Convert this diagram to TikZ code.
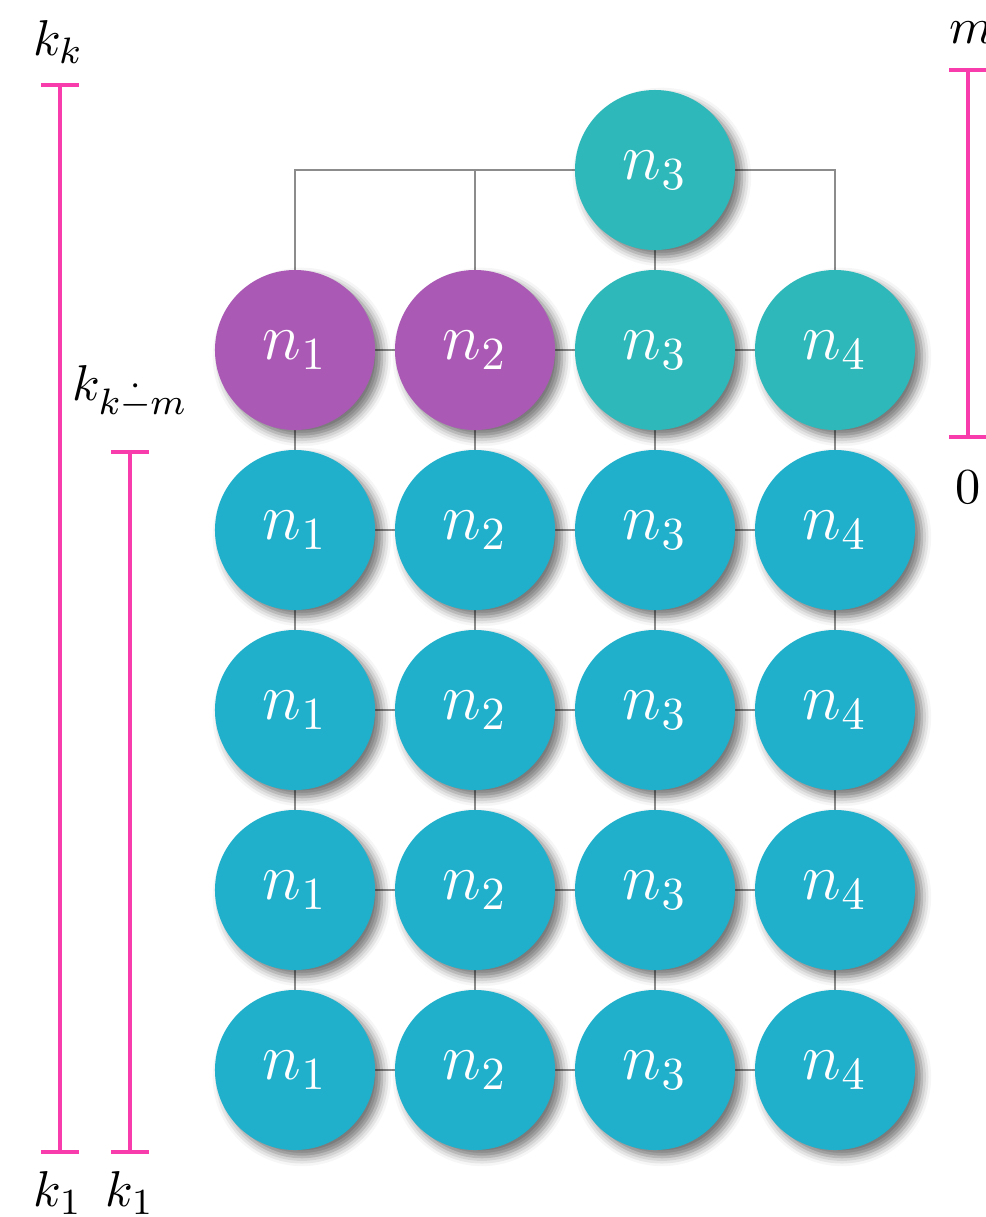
\documentclass[tikz,border=0pt]{standalone}
\usetikzlibrary{shadows.blur}
\definecolor{barpink}{RGB}{248,60,172}
\definecolor{purp}{RGB}{170,90,180}
\definecolor{tealc}{RGB}{46,184,186}
\definecolor{cyanc}{RGB}{33,176,204}
\definecolor{linkgray}{RGB}{140,140,140}
\tikzset{
  ball/.style={circle, minimum size=34.8pt, inner sep=0pt, text=white, font=\Large,
    blur shadow={shadow xshift=1.5pt, shadow yshift=-1.5pt, shadow blur radius=2pt, shadow opacity=55}},
  pball/.style={ball, fill=purp},
  tball/.style={ball, fill=tealc},
  cball/.style={ball, fill=cyanc},
  link/.style={draw=linkgray, line width=0.35pt},
  bar/.style={draw=barpink, line width=0.9pt},
  lbl/.style={inner sep=0pt, font=\fontsize{11.2pt}{13pt}\selectfont}
}
\begin{document}
\begin{tikzpicture}[x=0.2174pt,y=-0.2174pt]
\useasboundingbox (0,0) rectangle (986,1217);
% links first (behind nodes)
\coordinate (t) at (655,170);
\foreach \c/\x in {1/295,2/475,3/655,4/835}{
  \foreach \r/\y in {1/350,2/530,3/710,4/890,5/1070}{
    \coordinate (p\r\c) at (\x,\y);
  }
}
\foreach \r in {1,...,5}{
  \draw[link] (p\r1) -- (p\r2) -- (p\r3) -- (p\r4);
}
\foreach \c in {1,...,4}{
  \draw[link] (p1\c) -- (p5\c);
}
\draw[link] (t) -- (p13);
\draw[link] (t) -| (p11);
\draw[link] (t) -| (p12);
\draw[link] (t) -| (p14);
% nodes
\node[tball] (top) at (t) {$n_3$};
\node[pball] (a11) at (p11) {$n_1$};
\node[pball] (a12) at (p12) {$n_2$};
\node[tball] (a13) at (p13) {$n_3$};
\node[tball] (a14) at (p14) {$n_4$};
\foreach \r in {2,...,5}{
  \node[cball] (a\r1) at (p\r1) {$n_1$};
  \node[cball] (a\r2) at (p\r2) {$n_2$};
  \node[cball] (a\r3) at (p\r3) {$n_3$};
  \node[cball] (a\r4) at (p\r4) {$n_4$};
}
% bars
\coordinate (b1t) at (60,85);
\coordinate (b1b) at (60,1152);
\coordinate (b2t) at (130,452);
\coordinate (b2b) at (130,1152);
\coordinate (b3t) at (968,70);
\coordinate (b3b) at (968,437);
\draw[bar] (b1t) -- (b1b);
\draw[bar] ([xshift=-4.1pt]b1t) -- ([xshift=4.1pt]b1t);
\draw[bar] ([xshift=-4.1pt]b1b) -- ([xshift=4.1pt]b1b);
\draw[bar] (b2t) -- (b2b);
\draw[bar] ([xshift=-4.1pt]b2t) -- ([xshift=4.1pt]b2t);
\draw[bar] ([xshift=-4.1pt]b2b) -- ([xshift=4.1pt]b2b);
\draw[bar] (b3t) -- (b3b);
\draw[bar] ([xshift=-4.1pt]b3t) -- ([xshift=4.1pt]b3t);
\draw[bar] ([xshift=-4.1pt]b3b) -- ([xshift=4.1pt]b3b);
% labels
\node[lbl] (lkk) at (58,42) {$k_k$};
\node[lbl] (lkm) at (130,392) {$k_{k\mathbin{\dot{-}}m}$};
\node[lbl] (lm) at (972,33) {$m$};
\node[lbl] (l0) at (968,487) {$0$};
\node[lbl] (lk1a) at (58,1193) {$k_1$};
\node[lbl] (lk1b) at (130,1193) {$k_1$};
\end{tikzpicture}
\end{document}
